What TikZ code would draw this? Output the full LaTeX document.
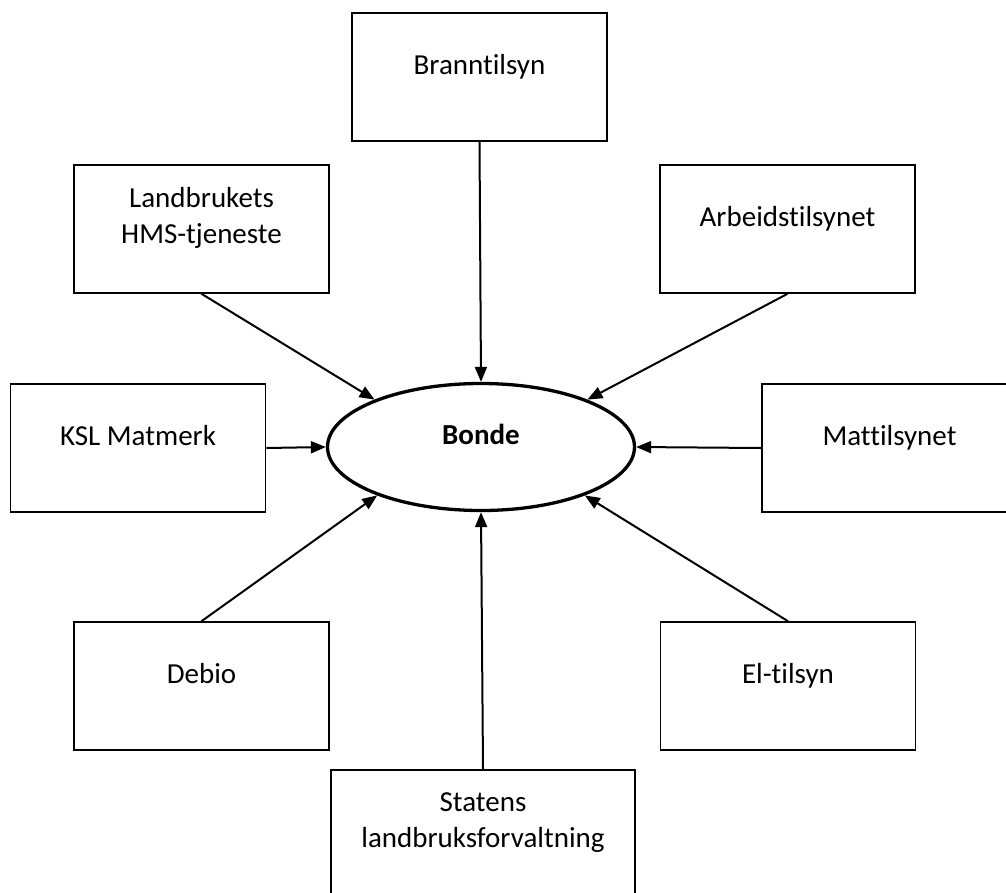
\documentclass[tikz,border=0pt]{standalone}
\usepackage{fontspec}
\setmainfont[Ligatures=NoCommon]{Carlito}
\usetikzlibrary{arrows.meta,shapes.geometric}

\begin{document}
\begin{tikzpicture}[x=1pt, y=-1pt,
	etat/.style={draw, line width=1.6pt, minimum width=255pt, minimum height=128pt, inner sep=0pt},
	pil/.style={line width=2pt, -{Triangle[length=15pt,width=12pt]}},
	tekst/.style={font=\fontsize{29}{36}\selectfont, align=center, yshift=11pt},
	linje/.style={tekst, text height=20pt, text depth=7pt, yshift=-1.5pt}]
			%%%%% START %%%%%
			
			\useasboundingbox (0, 0) rectangle (1006, 892);
			\clip (0, 0) rectangle (1006, 892);
			
			\node[draw, ellipse, line width=3.3pt, minimum width=307pt, minimum height=127pt,
				label={[linje, font=\fontsize{29}{36}\selectfont\bfseries]center:Bonde}] (bonde) at (481, 447) {};
			
			\node[etat, label={[linje]center:Branntilsyn}] (brann) at (479.5, 77) {};
			\node[etat, label={[tekst]center:Landbrukets\\HMS-tjeneste}] (hms) at (201.5, 229) {};
			\node[etat, label={[linje]center:Arbeidstilsynet}] (arbeid) at (787.5, 229) {};
			\node[etat, label={[linje]center:KSL Matmerk}] (ksl) at (138, 448) {};
			\node[etat, label={[linje]center:Mattilsynet}] (mat) at (889.5, 448) {};
			\node[etat, label={[linje]center:Debio}] (debio) at (201.5, 686) {};
			\node[etat, label={[linje]center:El-tilsyn}] (el) at (788, 686) {};
			\node[etat, minimum width=304pt, label={[tekst]center:Statens\\landbruksforvaltning}] (slf) at (483, 834) {};
			
			\draw[pil] (brann.south) -- (bonde.north);
			\draw[pil] (hms.south) -- (bonde.156);
			\draw[pil] (arbeid.south) -- (bonde.24);
			\draw[pil] (ksl.east) -- (bonde.west);
			\draw[pil] (mat.west) -- (bonde.east);
			\draw[pil] (debio.north) -- (bonde.205);
			\draw[pil] (el.north) -- (bonde.-25);
			\draw[pil] (slf.north) -- (bonde.south);
			
			%%%%% END %%%%%
		\end{tikzpicture}
\end{document}
